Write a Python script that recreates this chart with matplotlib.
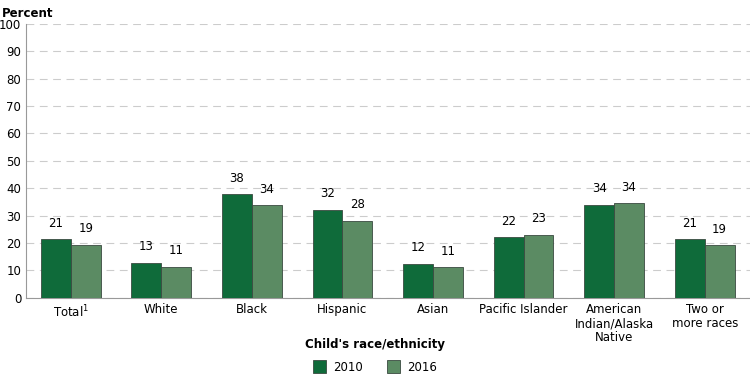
import matplotlib.pyplot as plt
import numpy as np

# Data
categories = ["Total$^{1}$", "White", "Black", "Hispanic", "Asian",
              "Pacific Islander", "American\nIndian/Alaska\nNative", "Two or\nmore races"]
vals_2010 = [21.3, 12.7, 37.8, 32.1, 12.4, 22.1, 33.9, 21.4]
vals_2016 = [19.3, 11.4, 33.7, 28.2, 11.1, 23.0, 34.5, 19.1]
labels_2010 = ["21", "13", "38", "32", "12", "22", "34", "21"]
labels_2016 = ["19", "11", "34", "28", "11", "23", "34", "19"]

c2010 = "#0f6b3a"
c2016 = "#5b8b63"

plt.rcParams["font.family"] = "DejaVu Sans"

fig = plt.figure(figsize=(7.5, 3.77), dpi=100)
ax = fig.add_axes([0.034, 0.21, 0.966, 0.727])

x = np.arange(len(categories))
w = 0.33
b1 = ax.bar(x - w / 2, vals_2010, w, color=c2010, edgecolor="#3a4a40", linewidth=0.6, label="2010", zorder=3)
b2 = ax.bar(x + w / 2, vals_2016, w, color=c2016, edgecolor="#3a4a40", linewidth=0.6, label="2016", zorder=3)

for bar, lab in zip(b1, labels_2010):
    ax.text(bar.get_x() + bar.get_width() / 2, bar.get_height() + 3.5, lab,
            ha="center", va="bottom", fontsize=8.5)
for bar, lab in zip(b2, labels_2016):
    ax.text(bar.get_x() + bar.get_width() / 2, bar.get_height() + 3.5, lab,
            ha="center", va="bottom", fontsize=8.5)

ax.set_xlim(-0.5, len(categories) - 0.5)
ax.set_ylim(0, 100)
ax.set_yticks(range(0, 101, 10))
ax.tick_params(axis="y", length=0, labelsize=8.5, pad=3)
ax.tick_params(axis="x", length=0, labelsize=8.5, pad=4)
ax.set_xticks(x)
ax.set_xticklabels(categories, linespacing=1.1, va="top")
ax.yaxis.grid(True, color="#cccccc", linestyle=(0, (7, 5)), linewidth=0.8, zorder=0)
for s in ["top", "right"]:
    ax.spines[s].set_visible(False)
ax.spines["left"].set_color("#999999")
ax.spines["bottom"].set_color("#999999")

fig.text(0.003, 0.965, "Percent", fontsize=8.5, fontweight="bold", ha="left", va="center")

leg = fig.legend(handles=[b1, b2], loc="center", bbox_to_anchor=(0.5, 0.027), ncol=2,
                 frameon=False, fontsize=8.5, handlelength=1.1, handleheight=1.3,
                 columnspacing=2.0, handletextpad=0.6)
fig.text(0.5, 0.085, "Child's race/ethnicity", fontsize=8.5, fontweight="bold",
         ha="center", va="center")

fig.savefig("out.png", dpi=100)
